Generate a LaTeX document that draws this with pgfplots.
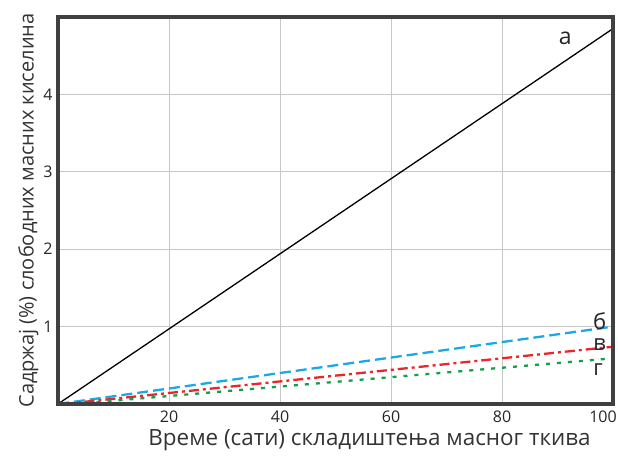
\documentclass[border=0pt]{standalone}
\usepackage{pgfplots}
\pgfplotsset{compat=1.18}
\usepackage{fontspec}
\setmainfont{Open Sans}
\definecolor{framegray}{HTML}{404040}
\definecolor{cblue}{HTML}{1BA9E6}
\definecolor{cred}{HTML}{E8262B}
\definecolor{cgreen}{HTML}{12A04A}
\begin{document}
\begin{tikzpicture}
\begin{axis}[
  name=ax,
  scale only axis,
  width=555pt, height=387pt,
  xmin=0, xmax=100, ymin=0, ymax=5,
  xtick={20,40,60,80,100}, ytick={1,2,3,4},
  xticklabels={20,40,60,80,\hspace{-20pt}100},
  grid=major,
  major grid style={draw=black!22, line width=0.9pt},
  major tick length=0pt,
  axis line style={color=framegray},
  /pgf/number format/assume math mode=true,
  tick label style={font=\fontsize{16}{18}\selectfont, text=black!85},
  xticklabel style={yshift=-3pt},
  yticklabel style={xshift=-2pt},
  xlabel={Време (сати) складиштења масног ткива},
  ylabel={Садржај (\%) слободних масних киселина},
  xlabel style={font=\fontsize{22.4}{24}\selectfont, text=black!80, xshift=34pt},
  ylabel style={font=\fontsize{20}{22}\selectfont, text=black!80, yshift=-2pt},
  clip=false,
]
\addplot[black, line width=1.3pt] coordinates {(0,0) (100,4.85)};
\addplot[cblue, line width=2.3pt, dash pattern=on 11pt off 5pt] coordinates {(0,0) (100,1.0)};
\addplot[cred, line width=2.3pt, dash pattern=on 10pt off 4pt on 3pt off 4pt] coordinates {(1,0) (100,0.74)};
\addplot[cgreen, line width=2.3pt, dash pattern=on 4pt off 7pt] coordinates {(3,0) (100,0.59)};
\draw[framegray, line width=4pt] (rel axis cs:0,0) rectangle (rel axis cs:1,1);
\node[font=\fontsize{23}{24}\selectfont, text=black!85] at (axis cs:91.4,4.72) {а};
\node[font=\fontsize{22}{24}\selectfont, text=black!85] at (axis cs:97.6,1.07) {б};
\node[font=\fontsize{22}{24}\selectfont, text=black!85] at (axis cs:97.6,0.77) {в};
\node[font=\fontsize{22}{24}\selectfont, text=black!85] at (axis cs:97.3,0.44) {г};
\end{axis}
\pgfresetboundingbox
\path ([xshift=-58pt,yshift=-52pt]ax.south west) rectangle ([xshift=5pt,yshift=17pt]ax.north east);
\end{tikzpicture}
\end{document}
